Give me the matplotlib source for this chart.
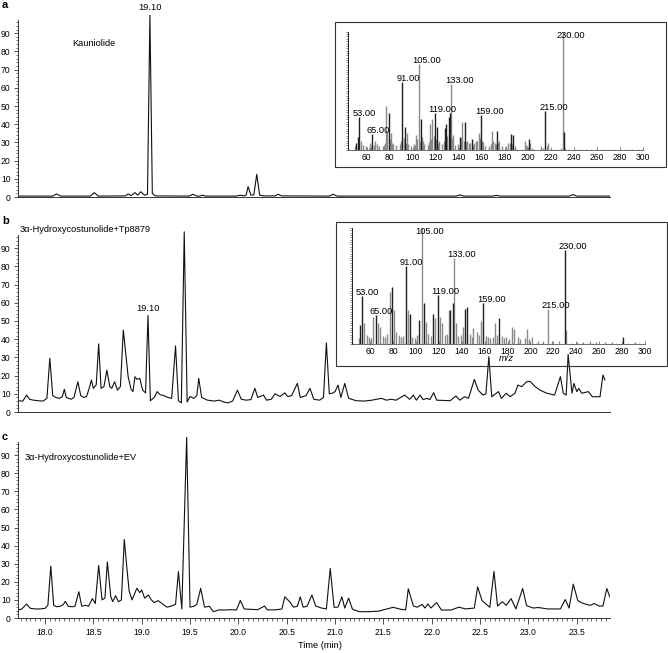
import matplotlib
matplotlib.use('Agg')
import matplotlib.pyplot as plt
from matplotlib.patches import Rectangle
from matplotlib.ticker import FixedLocator
import numpy as np

plt.rcParams['font.family'] = ['Liberation Sans', 'DejaVu Sans']

# ---------------- data ----------------
a_time = [17.72, 18.08, 18.12, 18.16, 18.47, 18.51, 18.55, 18.83, 18.86, 18.89, 18.93, 18.96, 18.99,
          19.03, 19.06, 19.085, 19.11, 19.14, 19.49, 19.53, 19.57, 19.60, 19.63, 19.66, 19.98, 20.02,
          20.06, 20.08, 20.10, 20.13, 20.16, 20.19, 20.22, 20.26, 20.38, 20.41, 20.45, 20.94, 20.98,
          21.02, 22.25, 22.29, 22.33, 22.63, 22.67, 22.71, 23.42, 23.46, 23.50, 23.84]
a_int = [0.5, 0.5, 1.7, 0.5, 0.5, 2.4, 0.5, 0.6, 1.7, 0.8, 2.4, 1.0, 2.9,
         1.0, 1.5, 100, 2.0, 0.6, 0.5, 1.5, 0.5, 0.5, 1.0, 0.5, 0.5, 1.0,
         0.6, 1.0, 5.7, 1.0, 1.2, 12.5, 1.0, 0.6, 0.6, 1.5, 0.6, 0.5, 1.5,
         0.5, 0.5, 1.1, 0.5, 0.5, 0.9, 0.5, 0.5, 1.3, 0.5, 0.5]

b_time = [17.72, 17.77, 17.81, 17.84, 17.88, 17.93, 17.98, 18.02, 18.05, 18.08, 18.11, 18.15, 18.18,
          18.20, 18.22, 18.27, 18.30, 18.34, 18.37, 18.40, 18.43, 18.46, 18.48, 18.50, 18.53, 18.555,
          18.58, 18.61, 18.64, 18.67, 18.69, 18.72, 18.75, 18.78, 18.81, 18.835, 18.86, 18.89, 18.91,
          18.93, 18.95, 18.98, 19.01, 19.04, 19.065, 19.09, 19.13, 19.16, 19.19, 19.23, 19.27, 19.31,
          19.35, 19.38, 19.41, 19.44, 19.47, 19.50, 19.54, 19.57, 19.59, 19.62, 19.68, 19.75, 19.80,
          19.85, 19.89, 19.94, 19.99, 20.03, 20.08, 20.13, 20.17, 20.20, 20.26, 20.29, 20.34, 20.38,
          20.43, 20.48, 20.51, 20.55, 20.61, 20.64, 20.70, 20.74, 20.78, 20.84, 20.88, 20.91, 20.94,
          20.97, 21.00, 21.03, 21.06, 21.10, 21.14, 21.22, 21.30, 21.38, 21.48, 21.53, 21.58, 21.63,
          21.72, 21.77, 21.81, 21.84, 21.88, 21.91, 21.95, 21.98, 22.02, 22.05, 22.19, 22.25, 22.29,
          22.34, 22.38, 22.44, 22.48, 22.53, 22.56, 22.59, 22.62, 22.69, 22.72, 22.77, 22.81, 22.86,
          22.89, 22.93, 22.98, 23.015, 23.07, 23.12, 23.19, 23.27, 23.33, 23.36, 23.39, 23.41, 23.45,
          23.47, 23.50, 23.52, 23.55, 23.62, 23.66, 23.74, 23.77, 23.79]
b_int = [6.2, 6.0, 9.3, 7.0, 6.5, 6.2, 6.0, 7.5, 29.5, 9.0, 8.0, 7.5, 8.5,
         12.5, 8.0, 7.0, 8.0, 16.6, 9.0, 8.0, 8.5, 13.5, 17.6, 13.0, 15.0, 37.4,
         13.0, 14.0, 23.0, 14.0, 13.0, 16.6, 12.0, 14.0, 45.0, 32.2, 19.4, 12.5, 11.2,
         19.4, 18.0, 18.5, 12.0, 10.5, 53.0, 6.2, 8.0, 11.2, 9.5, 9.0, 8.0, 7.5,
         36.3, 6.2, 5.0, 99.0, 5.5, 8.5, 7.5, 9.0, 18.5, 8.0, 6.5, 6.0, 6.5,
         5.5, 5.0, 6.0, 12.0, 7.0, 6.5, 6.8, 13.0, 8.0, 9.3, 6.5, 7.0, 10.0,
         8.5, 10.5, 8.5, 9.0, 15.7, 8.0, 9.0, 13.0, 7.0, 6.5, 8.0, 38.0, 10.0,
         10.3, 11.2, 14.8, 8.0, 15.7, 7.5, 6.2, 6.0, 6.5, 7.5, 6.5, 7.0, 6.5,
         9.3, 7.0, 9.3, 6.5, 9.3, 6.8, 7.5, 6.8, 10.6, 6.5, 6.2, 8.8, 6.5,
         8.4, 7.5, 17.9, 12.0, 9.3, 10.0, 30.4, 8.4, 11.2, 7.5, 10.3, 8.4, 10.3,
         14.8, 13.9, 16.6, 16.9, 13.9, 12.0, 10.3, 9.3, 19.4, 10.3, 9.3, 31.6, 10.3,
         15.7, 11.2, 13.0, 10.3, 11.2, 8.4, 8.4, 20.3, 17.6]

c_time = [17.72, 17.76, 17.81, 17.85, 17.90, 17.95, 18.00, 18.03, 18.06, 18.09, 18.12, 18.16, 18.19,
          18.21, 18.24, 18.28, 18.31, 18.35, 18.38, 18.42, 18.45, 18.49, 18.52, 18.555, 18.59, 18.62,
          18.645, 18.68, 18.70, 18.73, 18.76, 18.79, 18.82, 18.845, 18.87, 18.90, 18.95, 18.98, 19.00,
          19.03, 19.07, 19.10, 19.13, 19.17, 19.21, 19.26, 19.30, 19.35, 19.38, 19.415, 19.465, 19.50,
          19.54, 19.57, 19.61, 19.65, 19.70, 19.74, 19.80, 19.86, 19.92, 19.98, 20.02, 20.06, 20.12,
          20.20, 20.27, 20.30, 20.38, 20.45, 20.48, 20.53, 20.57, 20.61, 20.64, 20.67, 20.71, 20.76,
          20.80, 20.86, 20.91, 20.95, 20.99, 21.03, 21.07, 21.10, 21.14, 21.18, 21.25, 21.35, 21.45,
          21.52, 21.60, 21.68, 21.73, 21.757, 21.81, 21.85, 21.90, 21.93, 21.96, 21.99, 22.05, 22.10,
          22.20, 22.28, 22.35, 22.44, 22.474, 22.52, 22.60, 22.643, 22.68, 22.73, 22.77, 22.82, 22.87,
          22.94, 22.98, 23.05, 23.10, 23.20, 23.33, 23.38, 23.42, 23.463, 23.51, 23.55, 23.60, 23.64,
          23.68, 23.73, 23.77, 23.81, 23.84]
c_int = [4.4, 5.0, 7.7, 5.3, 5.0, 5.0, 5.3, 7.0, 28.7, 7.0, 6.2, 6.5, 7.5,
         9.2, 6.5, 6.2, 6.5, 14.5, 6.5, 7.0, 6.5, 10.7, 8.0, 29.0, 10.0, 11.0,
         31.0, 12.0, 9.0, 12.3, 9.0, 10.0, 43.4, 28.7, 15.0, 10.0, 16.4, 14.0, 15.5,
         11.0, 12.7, 10.0, 8.5, 9.6, 8.0, 6.0, 6.5, 7.5, 25.6, 5.0, 100, 6.0,
         6.5, 7.5, 16.4, 6.0, 6.5, 3.5, 4.5, 4.4, 4.6, 4.4, 9.7, 5.0, 4.8,
         4.6, 6.6, 4.5, 4.5, 5.0, 11.7, 9.0, 6.0, 6.5, 11.7, 6.0, 6.5, 12.7,
         6.6, 5.5, 5.0, 27.4, 5.9, 6.0, 11.7, 5.5, 11.0, 4.8, 3.5, 3.5, 3.8,
         4.8, 5.9, 4.8, 4.5, 16.1, 6.6, 6.0, 7.5, 5.5, 7.8, 5.5, 8.5, 4.4,
         4.4, 6.0, 5.0, 5.5, 17.2, 9.6, 5.9, 25.7, 6.6, 9.0, 7.0, 10.7, 5.0,
         16.3, 6.8, 5.5, 5.8, 5.0, 5.0, 10.2, 5.5, 18.7, 9.6, 8.4, 7.5, 7.0,
         8.0, 6.6, 6.6, 16.3, 11.7]

# mass spectrum, panel a (relative abundance, %)
msa_dark_mz = [51, 52, 53, 65, 79, 91, 93, 107, 119, 121, 128, 129, 131, 132, 141, 145, 151,
               159, 173, 185, 187, 201, 215, 231]
msa_dark_int = [6, 10.7, 28, 13.5, 31, 57.6, 19.7, 26, 31, 19.7, 19, 21.7, 28, 31, 11, 24, 9.6,
                29.5, 16, 13.5, 13, 9, 32.7, 15]
msa_gray_mz = [55, 63, 67, 77, 78, 81, 95, 103, 105, 108, 115, 117, 123, 133, 135, 143, 147,
               153, 155, 157, 161, 166, 169, 170, 175, 183, 197, 202, 211, 217, 230,
               50, 57, 59, 62, 64, 66, 69, 71, 74, 75, 76, 80, 82, 83, 85, 89, 90, 92, 94,
               96, 98, 101, 102, 104, 106, 109, 110, 113, 114, 116, 118, 120, 122, 125, 127,
               130, 134, 137, 139, 142, 144, 146, 149, 150, 152, 156, 158, 160, 163, 168,
               171, 172, 174, 177, 181, 184, 186, 189, 198, 199, 203, 213, 216, 229, 232]
msa_gray_int = [8, 5.6, 8, 37, 15, 14, 14, 12.7, 73, 11, 21.7, 26, 8, 56, 12.7, 24, 8,
                5.6, 8, 14, 7, 3, 16, 8, 8, 5.6, 8, 6, 3, 5.6, 100,
                3, 4, 3, 2, 3, 4, 5, 3, 3, 4, 6, 9, 6, 5, 4, 5, 8, 10, 6,
                5, 3, 5, 4, 9, 8, 8, 5, 4, 7, 9, 12, 9, 6, 5, 8,
                12, 10, 4, 5, 10, 8, 7, 6, 6, 4, 8, 10, 8, 3, 5,
                6, 5, 6, 3, 3, 6, 5, 3, 4, 3, 2, 2, 3, 2, 2]
msa_labels_mz = [53, 65, 91, 105, 119, 133, 159, 215, 230]
msa_labels = ['53.00', '65.00', '91.00', '105.00', '119.00', '133.00', '159.00', '215.00', '230.00']

# mass spectrum, panel b
msb_dark_mz = [51, 53, 65, 79, 91, 95, 103, 107, 115, 119, 130, 132, 143, 145, 159, 173, 230,
               281]
msb_dark_int = [16, 41, 25, 49, 67, 26, 20.6, 35, 26, 42, 29, 35, 30, 32, 35, 22, 81,
                6]
msb_gray_mz = [55, 63, 67, 69, 77, 81, 93, 105, 109, 117, 121, 123, 129, 133, 135, 141, 150,
               157, 169, 184, 186, 197, 215, 231,
               50, 57, 59, 61, 71, 73, 75, 83, 85, 87, 89, 97, 99, 101, 111, 113, 125, 127,
               137, 139, 147, 149, 153, 155, 161, 163, 165, 167, 171, 175, 177, 179, 181,
               189, 191, 195, 199, 201, 207, 211, 219, 225, 241, 246, 252, 257, 265, 271,
               291]
msb_gray_int = [18, 23.5, 18, 15, 45, 29, 29, 100, 19, 22, 23, 18, 29, 74, 18, 15, 13.5,
                19.5, 18, 15, 13, 13, 30, 12,
                5, 8, 6, 5, 7, 6, 9, 10, 8, 6, 7, 6, 5, 8, 9, 7, 8, 9,
                7, 8, 9, 6, 10, 8, 7, 6, 5, 6, 8, 7, 5, 6, 4,
                6, 4, 5, 4, 6, 3, 3, 3, 3, 2, 2, 3, 2, 2, 2,
                2]
msb_labels_mz = [53, 65, 91, 105, 119, 133, 159, 215, 230]
msb_labels = ['53.00', '65.00', '91.00', '105.00', '119.00', '133.00', '159.00', '215.00', '230.00']

panel_titles = ['Kauniolide', '3\u03b1-Hydroxycostunolide+Tp8879', '3\u03b1-Hydroxycostunolide+EV']
panel_letters = ['a', 'b', 'c']
time_ticks = [18.0, 18.5, 19.0, 19.5, 20.0, 20.5, 21.0, 21.5, 22.0, 22.5, 23.0, 23.5]
mz_ticks = [60, 80, 100, 120, 140, 160, 180, 200, 220, 240, 260, 280, 300]

# ---------------- layout ----------------
W, H = 668, 653
fig = plt.figure(figsize=(W / 100, H / 100), dpi=100)


def fx(px):
    return px / W


def fy(py):
    return 1 - py / H


XL = (17.724, 23.843)
ax_left = fx(18.3)
ax_w = (610 - 18.3) / W
TS = 6.2
panels = [(197, 182), (412, 182), (618, 181)]
traces = [(a_time, a_int), (b_time, b_int), (c_time, c_int)]
axes = []
for i, ((y0, hpx), (tt, vv)) in enumerate(zip(panels, traces)):
    ax = fig.add_axes([ax_left, fy(y0), ax_w, hpx / H])
    ax.plot(tt, vv, color='#111111', lw=0.8)
    ax.set_xlim(*XL)
    ax.set_ylim(0, 100)
    ax.set_facecolor('none')
    for s in ['top', 'right']:
        ax.spines[s].set_visible(False)
    ax.spines['left'].set_bounds(0, 97)
    for s in ['left', 'bottom']:
        ax.spines[s].set_linewidth(0.7)
        ax.spines[s].set_color('#333333')
    ax.yaxis.set_major_locator(FixedLocator(list(range(0, 91, 10))))
    ax.yaxis.set_minor_locator(FixedLocator(list(range(0, 97, 2))))
    ax.tick_params(axis='y', which='major', length=3, width=0.6, labelsize=TS, pad=2.5, color='#333333')
    ax.tick_params(axis='y', which='minor', length=1.8, width=0.5, color='#333333')
    if i < 2:
        ax.tick_params(axis='x', which='both', bottom=False, labelbottom=False)
    else:
        ax.xaxis.set_major_locator(FixedLocator(time_ticks))
        ax.xaxis.set_minor_locator(FixedLocator(list(np.arange(17.75, 23.85, 0.05))))
        ax.set_xticklabels(['%.1f' % t for t in time_ticks])
        ax.tick_params(axis='x', which='major', length=4, width=0.6, labelsize=TS, pad=3, color='#333333')
        ax.tick_params(axis='x', which='minor', length=1.8, width=0.5, color='#333333')
        ax.set_xlabel('Time (min)', fontsize=6.7)
        ax.xaxis.set_label_coords(0.51, -0.128)
    axes.append(ax)

# panel letters
for letter, py in zip(panel_letters, [5, 221, 437]):
    fig.text(fx(2), fy(py), letter, fontsize=8, fontweight='bold', va='center', ha='left')

fig.text(fx(72), fy(43), panel_titles[0], fontsize=6.7, va='center', ha='left')
fig.text(fx(20), fy(230), panel_titles[1], fontsize=6.7, va='center', ha='left')
fig.text(fx(25), fy(457), panel_titles[2], fontsize=6.7, va='center', ha='left')

# peak labels 19.10
axes[0].annotate('19.10', xy=(19.085, 100), xytext=(0, 3), textcoords='offset pixels',
                 ha='center', va='bottom', fontsize=6.7, annotation_clip=False)
axes[1].annotate('19.10', xy=(19.065, 53), xytext=(0, 3), textcoords='offset pixels',
                 ha='center', va='bottom', fontsize=6.7, annotation_clip=False)


# ---------------- insets ----------------
def inset(box, axrect, dmz, dint, gmz, gint, lmz, labels, xlabel=False):
    bx0, by0, bx1, by1 = box
    fig.patches.append(Rectangle((fx(bx0), fy(by1)), (bx1 - bx0) / W, (by1 - by0) / H,
                                 transform=fig.transFigure, fill=False, lw=0.8,
                                 ec='#333333', zorder=0))
    l, b, r, t = axrect
    ia = fig.add_axes([fx(l), fy(b), (r - l) / W, (b - t) / H])
    ia.set_facecolor('none')
    ia.vlines(gmz, 0, gint, color='#8a8a8a', lw=1.0)
    ia.vlines(dmz, 0, dint, color='#202020', lw=1.0)
    ia.set_xlim(44, 300)
    ia.set_ylim(0, 100)
    for s in ['top', 'right']:
        ia.spines[s].set_visible(False)
    ia.spines['left'].set_linewidth(0.6)
    ia.spines['bottom'].set_linewidth(0.6)
    ia.spines['bottom'].set_color('#555555')
    ia.xaxis.set_major_locator(FixedLocator(mz_ticks))
    ia.xaxis.set_minor_locator(FixedLocator(list(range(45, 300, 5))))
    ia.yaxis.set_major_locator(FixedLocator([]))
    ia.yaxis.set_minor_locator(FixedLocator(list(range(0, 101, 2))))
    ia.tick_params(axis='x', which='major', length=2, width=0.5, labelsize=6.2, pad=2,
                   direction='in', color='#555555')
    ia.tick_params(axis='x', which='minor', length=1, width=0.4, direction='in', color='#555555')
    ia.tick_params(axis='y', which='minor', length=1.5, width=0.4, color='#333333')
    alltop = dict(zip(gmz, gint))
    alltop.update(dict(zip(dmz, dint)))
    for m, lab in zip(lmz, labels):
        ia.annotate(lab, xy=(m, min(alltop[m], 94)), xytext=(-6, -1), textcoords='offset pixels',
                    ha='left', va='bottom', fontsize=6.7, annotation_clip=False)
    if xlabel:
        ia.set_xlabel('m/z', fontsize=6.7, style='italic', labelpad=0)
        ia.xaxis.set_label_coords(0.528, -0.09)
    return ia


inset((335, 21.7, 665.5, 166.7), (348.3, 150, 643.3, 31.7),
      msa_dark_mz, msa_dark_int, msa_gray_mz, msa_gray_int, msa_labels_mz, msa_labels)
inset((336, 221.7, 666.5, 366), (351.7, 344, 645, 228),
      msb_dark_mz, msb_dark_int, msb_gray_mz, msb_gray_int, msb_labels_mz, msb_labels, xlabel=True)

fig.savefig('out.png', dpi=100)
